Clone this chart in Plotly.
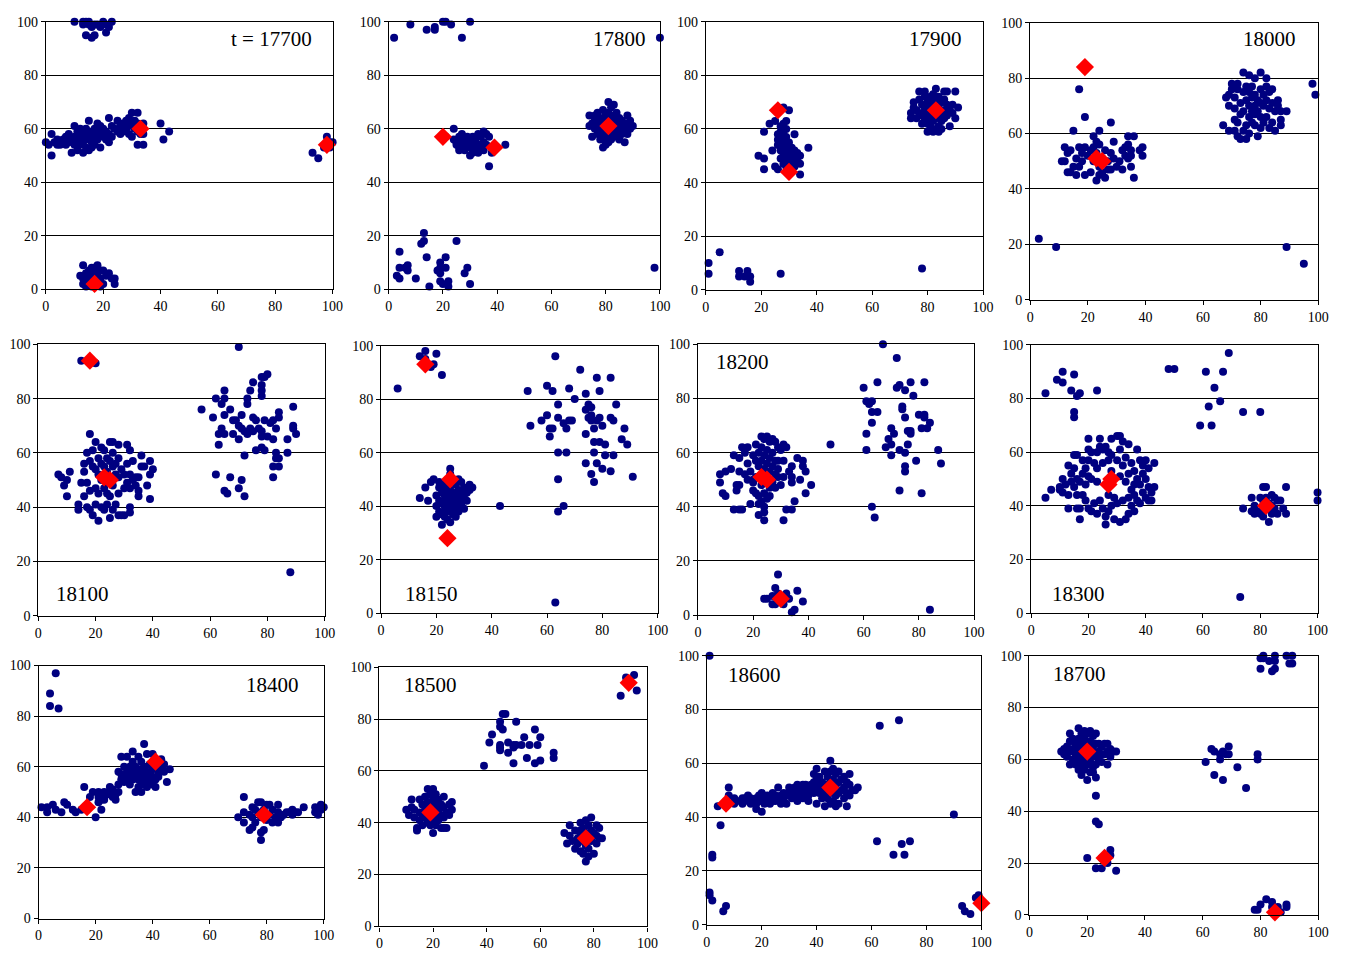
import plotly.graph_objects as go

W, H = 1351, 961

LABELS = ["t = 17700", "17800", "17900", "18000", "18100", "18150",
          "18200", "18300", "18400", "18500", "18600", "18700"]

# ---------------- data (x, y) per panel ----------------
P17700_BLUE = [(10,100),(13,99),(14,100),(15,100),(15,99),(16,98),(17,99),(18,99),(20,100),(21,99),(22,98),(23,100),(14,95),(16,94),(17,95),(21,96),(13,100),(19,98),
 (0,55),(1,54),(2,58),(2,50),(3,55),(4,56),(4,54),(5,54),(6,55),(6,56),(7,57),(7,54),(8,58),(8,55),(9,56),(9,51),(10,57),(10,61),(10,54),(11,59),(11,55),(11,52),(12,60),(12,57),(12,54),(12,56),(13,58),(13,55),(13,51),(14,60),(14,57),(14,53),(15,63),(15,59),(15,56),(15,52),(16,58),(16,55),(16,53),(17,60),(17,57),(17,54),(18,62),(18,59),(18,56),(19,61),(19,58),(19,53),(20,60),(20,57),(21,59),(21,56),(22,64),(22,58),(22,55),(23,61),(23,57),(24,60),(25,63),(25,59),(26,61),(26,58),(27,62),(27,59),(28,63),(28,60),(29,64),(29,61),(29,58),(30,66),(30,62),(30,57),(31,63),(31,60),(32,66),(32,62),(32,59),(32,54),(33,61),(33,58),(34,62),(34,58),(34,54),(40,62),(41,56),(43,59),
 (93,51),(95,49),(97,53),(98,57),(99,55),(100,55),(99,53),(98,53),
 (12,5),(13,9),(13,4),(13,2),(14,6),(14,1),(15,3),(15,7),(16,5),(16,1),(17,8),(17,6),(17,3),(18,9),(18,5),(18,2),(19,7),(19,4),(20,7),(20,2),(21,5),(22,6),(23,4),(24,4),(24,2),(14,4),(16,8),(19,1)]
P17700_RED = [(33,60),(98,54),(17,2)]

P17800_BLUE = [(2,94),(8,99),(14,97),(17,98),(17,97),(20,100),(21,100),(23,99),(27,94),(30,100),(100,94),
 (21,57),(24,60),(24,56),(25,55),(25,54),(26,57),(26,53),(26,52),(27,58),(27,55),(27,53),(28,56),(28,52),(29,54),(29,57),(30,55),(30,50),(30,53),(31,57),(31,54),(32,52),(32,56),(33,58),(33,54),(33,51),(34,57),(34,53),(35,59),(35,55),(35,52),(36,58),(36,54),(37,57),(37,46),(38,51),(43,54),(28,54),(26,55),(31,51),
 (74,65),(74,61),(75,62),(75,57),(76,63),(76,60),(77,66),(77,61),(77,58),(78,64),(78,62),(78,59),(78,56),(79,67),(79,63),(79,60),(79,57),(79,53),(80,65),(80,62),(80,59),(80,56),(80,54),(81,70),(81,66),(81,63),(81,61),(81,58),(81,55),(82,68),(82,64),(82,61),(82,59),(82,56),(83,69),(83,65),(83,62),(83,60),(83,57),(84,66),(84,63),(84,60),(84,58),(85,64),(85,61),(85,59),(85,56),(86,63),(86,60),(86,58),(87,62),(87,59),(87,55),(88,65),(88,61),(88,58),(89,63),(89,60),(90,61),(76,65),(77,63),(80,60),(82,62),(84,61),
 (3,5),(4,14),(4,8),(4,4),(6,8),(7,9),(7,7),(10,4),(12,17),(13,18),(13,21),(14,12),(15,1),(18,7),(19,10),(19,8),(19,6),(19,3),(20,2),(21,12),(21,8),(22,3),(22,1),(25,18),(28,6),(29,8),(30,2),(98,8)]
P17800_RED = [(20,57),(39,53),(81,61)]

P17900_BLUE = [(19,50),(21,59),(21,49),(21,45),(23,62),(24,52),(25,63),(25,46),(26,45),(26,58),(26,56),(26,54),(27,61),(27,59),(27,57),(27,55),(27,52),(27,49),(28,68),(28,62),(28,58),(28,56),(28,53),(28,50),(28,47),(29,63),(29,60),(29,57),(29,54),(29,51),(29,48),(29,46),(30,67),(30,55),(30,52),(30,49),(30,47),(31,53),(31,50),(31,48),(32,58),(32,52),(32,49),(32,46),(33,51),(33,48),(34,50),(34,47),(34,43),(37,53),
 (74,64),(74,66),(75,68),(75,70),(76,67),(77,74),(77,71),(77,65),(78,69),(78,66),(78,62),(79,74),(79,72),(79,68),(79,64),(80,70),(80,66),(80,62),(80,59),(81,72),(81,68),(81,65),(81,61),(82,73),(82,70),(82,66),(82,63),(82,59),(83,75),(83,71),(83,67),(83,64),(83,60),(84,72),(84,68),(84,65),(84,61),(84,59),(85,70),(85,66),(85,63),(85,60),(86,74),(86,71),(86,67),(86,64),(87,74),(87,69),(87,65),(88,67),(88,61),(89,69),(89,66),(90,74),(90,64),(91,68),(76,64),(81,63),
 (1,10),(1,6),(5,14),(12,7),(12,5),(14,5),(15,7),(16,5),(16,3),(27,6),(78,8)]
P17900_RED = [(26,67),(30,44),(83,67)]

P18000_BLUE = [(17,76),(19,66),(15,61),(24,61),(28,64),(12,55),(13,53),(11,50),(12,50),(13,46),(14,54),(14,46),(15,48),(16,51),(16,45),(17,55),(17,48),(18,50),(19,55),(19,45),(20,52),(21,46),(22,59),(22,55),(22,50),(23,57),(23,53),(23,43),(24,56),(24,48),(24,45),(25,51),(25,46),(26,54),(26,44),(27,50),(27,47),(28,53),(28,47),(29,57),(29,51),(30,48),(31,50),(32,54),(32,47),(33,52),(34,59),(34,56),(34,51),(35,54),(35,48),(36,59),(36,44),(38,54),(39,55),(39,52),(35,52),(21,54),(18,53),(26,50),(33,55),
 (67,63),(68,73),(69,74),(69,70),(69,61),(70,78),(70,76),(71,73),(71,69),(71,65),(71,61),(72,78),(72,76),(72,64),(72,59),(73,71),(73,67),(73,58),(74,82),(74,75),(74,68),(74,61),(75,77),(75,72),(75,63),(75,58),(76,81),(76,75),(76,70),(76,66),(76,60),(77,77),(77,73),(77,68),(77,64),(78,80),(78,74),(78,70),(78,67),(78,63),(79,59),(79,72),(79,68),(80,82),(80,76),(80,71),(80,66),(80,62),(81,74),(81,70),(81,64),(82,80),(82,77),(82,72),(82,66),(83,75),(83,69),(83,62),(84,76),(84,71),(84,64),(85,68),(85,61),(86,72),(86,70),(87,68),(87,65),(87,63),(89,68),(98,78),(99,74),
 (3,22),(9,19),(89,19),(95,13)]
P18000_RED = [(19,84),(23,51),(25,50)]

P18100_BLUE = [(15,94),(20,93),(70,99),
 (7,52),(8,51),(9,48),(10,50),(10,44),(11,53),(14,41),(14,39),(15,49),(16,56),(16,53),(16,44),(17,60),(17,49),(17,40),(18,67),(18,57),(18,46),(18,39),(19,61),(19,55),(19,37),(20,64),(20,54),(20,41),(21,58),(21,52),(21,45),(21,35),(22,62),(22,56),(22,50),(22,40),(23,61),(23,55),(23,47),(23,39),(24,58),(24,53),(24,45),(24,41),(25,64),(25,57),(25,51),(25,44),(25,36),(26,64),(26,60),(26,55),(26,48),(26,39),(27,56),(27,52),(27,41),(28,63),(28,58),(28,51),(28,37),(29,54),(29,37),(30,52),(30,47),(30,37),(31,63),(31,56),(31,49),(32,61),(32,52),(32,47),(32,40),(32,38),(33,57),(33,50),(34,51),(34,48),(35,51),(35,46),(35,44),(36,59),(36,55),(37,55),(38,48),(39,57),(39,52),(39,43),(40,54),(20,47),(24,49),(28,45),
 (57,76),(61,73),(62,80),(62,52),(63,67),(63,63),(64,78),(64,69),(65,83),(65,80),(65,74),(65,67),(65,46),(66,45),(67,76),(67,51),(68,72),(68,67),(69,72),(70,70),(70,65),(70,47),(71,74),(71,69),(71,50),(72,68),(72,59),(72,44),(73,80),(73,78),(73,67),(74,83),(74,69),(75,86),(75,73),(75,68),(76,72),(76,61),(77,69),(78,88),(78,85),(78,83),(78,81),(78,68),(78,66),(78,62),(79,88),(79,72),(79,61),(80,89),(80,66),(81,71),(82,72),(82,65),(82,55),(82,51),(83,69),(83,60),(83,58),(84,75),(84,73),(84,55),(84,58),(87,65),(87,60),(89,77),(89,70),(89,69),(90,67),(88,16)]
P18100_RED = [(18,94),(23,51),(25,50)]

P18150_BLUE = [(6,84),(14,96),(16,98),(16,95),(18,92),(19,93),(20,97),(22,89),
 (14,43),(16,47),(17,42),(18,49),(19,50),(20,36),(20,40),(20,44),(21,47),(21,49),(21,42),(21,38),(22,33),(22,45),(22,41),(22,37),(23,48),(23,44),(23,40),(23,36),(24,47),(24,43),(24,39),(24,35),(25,54),(25,52),(25,46),(25,42),(25,38),(25,34),(26,49),(26,45),(26,41),(26,37),(27,48),(27,44),(27,40),(27,36),(28,50),(28,46),(28,42),(28,38),(29,49),(29,45),(29,41),(30,47),(30,43),(30,39),(31,45),(31,42),(32,48),(32,46),(33,47),(22,47),(23,42),(24,45),(26,43),(27,42),(29,43),(24,41),(26,39),(28,40),(25,44),(23,38),
 (43,40),(53,83),(54,70),(58,72),(60,85),(60,74),(61,66),(61,69),(62,69),(62,83),(63,96),(64,78),(64,73),(64,60),(64,50),(64,38),(66,71),(66,40),(67,69),(67,60),(68,84),(68,72),(69,72),(70,80),(72,91),(74,82),(74,76),(74,67),(74,56),(75,78),(75,73),(76,77),(76,74),(76,72),(76,52),(77,69),(77,64),(77,60),(77,49),(78,88),(78,72),(78,56),(79,83),(79,73),(79,64),(80,70),(80,54),(81,63),(81,59),(83,88),(83,73),(83,53),(84,72),(84,59),(85,78),(87,65),(88,69),(89,63),(91,51),(63,4)]
P18150_RED = [(16,93),(25,50),(24,28)]

P18200_BLUE = [(8,52),(8,49),(9,45),(10,44),(10,53),(12,54),(13,59),(13,39),(14,48),(14,46),(15,58),(15,53),(15,48),(15,39),(16,62),(16,39),(17,52),(17,60),(18,62),(18,56),(18,50),(19,53),(19,41),(20,59),(20,49),(20,46),(21,63),(21,57),(21,51),(21,45),(22,60),(22,55),(22,44),(22,41),(22,37),(23,66),(23,62),(23,57),(23,48),(23,42),(24,65),(24,59),(24,54),(24,45),(24,40),(24,38),(24,35),(25,66),(25,61),(25,56),(25,50),(25,43),(26,64),(26,58),(26,53),(26,44),(27,65),(27,60),(27,55),(27,49),(28,64),(28,57),(28,52),(28,47),(29,62),(29,57),(29,51),(30,61),(30,48),(31,63),(31,57),(31,51),(31,35),(32,62),(32,39),(34,55),(34,51),(34,49),(34,39),(35,42),(36,58),(37,50),(38,57),(38,55),(39,53),(39,45),(41,48),(48,63),(20,50),(26,47),(29,54),(33,53),
 (60,84),(61,79),(61,67),(61,61),(62,78),(63,79),(63,75),(63,71),(63,40),(64,36),(65,86),(65,75),(67,100),(68,62),(69,65),(70,69),(70,63),(70,59),(71,67),(72,95),(72,84),(73,85),(73,61),(73,46),(74,77),(74,76),(75,83),(75,73),(75,60),(75,55),(75,53),(76,68),(76,63),(77,86),(77,68),(77,67),(78,81),(79,57),(80,74),(81,69),(81,45),(82,86),(82,74),(82,73),(83,69),(84,71),(87,61),(88,56),
 (24,6),(25,6),(27,7),(27,4),(28,10),(28,4),(29,15),(29,8),(30,6),(31,4),(32,8),(33,6),(34,1),(35,2),(36,9),(38,5),(84,2)]
P18200_RED = [(23,51),(25,50),(30,6)]

P18300_BLUE = [(5,82),(9,87),(11,90),(11,86),(14,83),(15,89),(15,75),(15,73),(16,81),(17,82),(23,83),(48,91),(50,91),(59,70),(61,90),(62,77),(63,70),(64,84),(66,79),(67,90),(69,97),(74,75),(80,75),
 (5,43),(7,46),(10,47),(10,46),(11,50),(11,45),(12,48),(13,55),(13,44),(13,39),(14,52),(14,49),(15,59),(15,54),(15,47),(16,59),(16,50),(16,44),(16,39),(17,35),(17,49),(17,39),(18,57),(18,52),(18,44),(19,48),(19,42),(20,65),(20,61),(20,57),(20,51),(20,39),(21,60),(21,50),(21,38),(22,41),(23,60),(23,54),(23,49),(23,37),(24,65),(24,62),(24,42),(25,61),(25,56),(25,39),(26,62),(26,36),(26,33),(27,60),(27,57),(27,44),(27,38),(28,65),(28,59),(28,53),(28,40),(29,43),(29,35),(30,66),(30,57),(30,41),(31,66),(31,61),(31,51),(31,34),(32,64),(32,55),(32,42),(33,58),(33,49),(33,35),(34,63),(34,52),(34,43),(34,37),(35,56),(35,46),(35,40),(36,53),(36,48),(36,38),(37,61),(37,50),(37,42),(38,57),(38,48),(38,41),(39,55),(39,52),(39,45),(40,57),(40,50),(40,43),(41,54),(41,47),(41,42),(42,45),(42,42),(43,56),(43,47),(22,56),(36,44),(19,54),
 (74,39),(77,43),(77,38),(78,40),(78,37),(79,38),(80,43),(80,37),(81,47),(81,42),(81,36),(82,47),(82,43),(82,39),(83,34),(83,41),(84,44),(84,40),(84,37),(85,43),(85,39),(86,42),(86,37),(87,42),(88,39),(89,47),(89,37),(100,45),(100,42),(73,6)]
P18300_RED = [(27,48),(28,50),(82,40)]

P18400_BLUE = [(4,89),(4,84),(6,97),(7,83),
 (1,44),(3,44),(3,42),(5,45),(6,43),(8,42),(9,46),(10,45),(12,43),(13,42),(15,43),(16,52),(17,44),(18,48),(19,50),(20,40),(21,50),(21,48),(21,46),(22,49),(22,47),(22,43),(23,50),(23,47),(24,49),(25,52),(25,50),(26,51),(26,48),(27,49),(27,47),(28,50),(28,53),(28,58),(29,55),(29,64),(29,57),(30,56),(30,60),(30,54),(31,58),(31,55),(31,64),(32,60),(32,57),(32,53),(33,66),(33,62),(33,58),(33,55),(34,60),(34,56),(34,50),(35,64),(35,58),(35,55),(35,52),(36,62),(36,57),(36,54),(36,50),(37,69),(37,60),(37,56),(37,53),(38,65),(38,58),(38,55),(38,52),(39,61),(39,57),(39,54),(40,65),(40,59),(40,56),(40,53),(41,60),(41,55),(41,52),(42,58),(42,56),(43,63),(43,59),(44,61),(44,58),(45,54),(46,59),(34,58),(36,59),
 (70,40),(72,48),(72,42),(72,38),(74,41),(74,35),(75,44),(75,40),(75,36),(76,43),(76,38),(77,46),(77,42),(78,46),(78,40),(78,34),(78,31),(79,43),(79,35),(80,45),(80,39),(81,45),(81,41),(82,43),(82,38),(83,40),(84,45),(84,42),(84,38),(85,40),(86,41),(87,42),(88,42),(89,43),(89,41),(90,42),(91,42),(93,44),(97,44),(97,42),(98,43),(98,41),(99,45),(99,43),(100,44)]
P18400_RED = [(17,44),(41,62),(79,41)]

P18500_BLUE = [(90,89),(92,96),(95,97),(96,91),
 (39,62),(41,71),(42,74),(45,79),(45,77),(45,70),(45,69),(45,68),(46,82),(46,76),(47,82),(48,71),(48,67),(50,70),(50,69),(50,63),(51,79),(51,70),(53,70),(54,73),(55,65),(56,70),(58,76),(58,63),(59,70),(60,73),(60,64),(65,67),(65,65),
 (10,45),(11,43),(12,49),(12,46),(13,45),(13,42),(14,38),(14,37),(15,49),(15,44),(15,41),(16,47),(16,43),(16,39),(17,50),(17,46),(17,42),(18,53),(18,48),(18,44),(18,40),(19,51),(19,47),(19,43),(19,39),(20,53),(20,49),(20,45),(20,41),(20,36),(21,51),(21,47),(21,43),(21,39),(22,49),(22,45),(22,41),(23,47),(23,43),(23,38),(24,50),(24,46),(24,42),(24,38),(25,44),(25,38),(26,47),(26,43),(27,48),(27,45),(19,45),(17,44),(22,47),
 (69,36),(70,32),(71,39),(71,35),(72,33),(73,37),(73,30),(74,34),(74,32),(75,40),(75,37),(75,35),(75,29),(76,38),(76,33),(76,28),(77,41),(77,36),(77,31),(77,25),(78,39),(78,35),(78,30),(79,42),(79,37),(79,33),(80,36),(80,28),(81,39),(81,35),(81,32),(82,38),(82,34),(83,34),(78,27),(76,35)]
P18500_RED = [(19,44),(77,34),(93,94)]

P18600_BLUE = [(1,100),(1,12),(1,11),(2,26),(2,25),(2,9),(4,44),(5,37),(6,5),(7,7),(8,51),(8,48),(10,47),(10,45),(12,46),(13,47),(13,45),(14,47),(15,48),(15,46),(16,47),(16,45),(18,47),(18,45),(18,43),(19,48),(19,46),(20,49),(20,46),(20,42),(21,47),(21,45),(22,48),(22,46),(23,47),(23,45),(24,49),(24,46),(25,48),(25,46),(26,51),(26,47),(27,48),(27,45),(28,49),(28,47),(29,48),(29,45),(30,51),(30,49),(31,50),(31,47),(32,51),(32,48),(33,52),(33,49),(33,46),(34,51),(34,48),(35,52),(35,50),(35,47),(36,52),(36,49),(37,51),(37,48),(37,46),(38,52),(38,50),(39,53),(39,56),(39,49),(40,58),(40,54),(40,51),(40,45),(41,55),(41,52),(41,49),(42,53),(42,50),(42,47),(43,57),(43,52),(43,49),(43,44),(44,55),(44,51),(44,47),(45,61),(45,57),(45,53),(45,49),(45,45),(46,58),(46,54),(46,50),(46,46),(47,56),(47,52),(47,48),(47,44),(48,57),(48,53),(48,49),(48,45),(49,54),(49,50),(50,55),(50,51),(50,47),(51,53),(51,49),(51,44),(52,56),(52,52),(52,48),(53,50),(54,50),(55,51),
 (62,31),(63,74),(68,26),(70,76),(71,30),(72,26),(74,31),(90,41),(93,7),(94,5),(96,4),(98,10),(99,11),(99,10)]
P18600_RED = [(7,45),(45,51),(100,8)]

P18700_BLUE = [(80,95),(80,99),(81,100),(83,98),(85,100),(85,98),(84,94),(85,95),(89,100),(90,97),(91,100),(91,97),(81,99),
 (11,63),(12,64),(12,62),(13,65),(13,61),(14,70),(14,67),(14,63),(14,58),(15,68),(15,64),(15,60),(16,66),(16,62),(16,58),(17,72),(17,68),(17,64),(17,60),(17,56),(18,70),(18,66),(18,62),(18,58),(18,54),(19,71),(19,68),(19,64),(19,60),(19,56),(20,70),(20,66),(20,62),(20,58),(20,52),(21,71),(21,67),(21,63),(21,59),(21,55),(22,69),(22,65),(22,61),(22,57),(22,55),(23,70),(23,66),(23,62),(23,58),(23,53),(24,66),(24,63),(24,60),(25,65),(25,62),(25,59),(26,66),(26,62),(27,66),(27,63),(27,58),(28,64),(28,61),(29,63),(30,63),(20,64),(18,64),(22,63),
 (23,46),(23,36),(24,35),(20,22),(23,18),(25,18),(25,22),(27,20),(28,25),(28,23),(30,17),
 (61,59),(63,64),(64,63),(64,54),(66,62),(66,60),(67,63),(67,52),(68,62),(69,65),(69,62),(72,57),(75,49),(79,62),(79,60),
 (78,2),(79,2),(80,4),(82,6),(84,5),(84,3),(86,3),(86,1),(87,1),(89,4),(89,3)]
P18700_RED = [(20,63),(26,22),(85,1)]

BLUE = [P17700_BLUE, P17800_BLUE, P17900_BLUE, P18000_BLUE, P18100_BLUE, P18150_BLUE,
        P18200_BLUE, P18300_BLUE, P18400_BLUE, P18500_BLUE, P18600_BLUE, P18700_BLUE]
RED = [P17700_RED, P17800_RED, P17900_RED, P18000_RED, P18100_RED, P18150_RED,
       P18200_RED, P18300_RED, P18400_RED, P18500_RED, P18600_RED, P18700_RED]

TICKS = [0, 20, 40, 60, 80, 100]

# ---------------- layout (pixel boxes: x0, x1, y0(top), y1(bottom)) ----------------
BOXES = [
    (42.3, 332.3, 15, 286.7), (389, 663.3, 15, 286.7), (709.7, 990, 15, 287.3), (1037.7, 1329, 16, 297.3),
    (34.7, 324.3, 342.7, 618.3), (381.3, 661, 344, 615.7), (701.7, 981, 342.7, 617.7), (1038.7, 1328.3, 343.3, 615.7),
    (35, 323.3, 669, 926), (379.7, 650.7, 670.7, 934), (710.7, 988.3, 659, 932.3), (1037, 1329, 659, 922.3),
]
# label anchor (fraction of axis domain) and alignment
LABEL_POS = [
    (0.935, 0.934, "right"), (0.956, 0.934, "right"), (0.93, 0.934, "right"), (0.928, 0.94, "right"),
    (0.056, 0.081, "left"), (0.078, 0.072, "left"), (0.057, 0.933, "left"), (0.066, 0.072, "left"),
    (0.92, 0.922, "right"), (0.085, 0.93, "left"), (0.069, 0.93, "left"), (0.075, 0.928, "left"),
]

FONT = "Liberation Serif"
fig = go.Figure()
layout = dict(
    width=W, height=H, margin=dict(l=0, r=0, t=0, b=0),
    paper_bgcolor="white", plot_bgcolor="white", showlegend=False,
    font=dict(family=FONT, size=14, color="black"),
)
annotations = []
for i in range(12):
    n = "" if i == 0 else str(i + 1)
    x0, x1, y0, y1 = BOXES[i]
    xa = dict(domain=[x0 / W, x1 / W], range=[0, 100], tickvals=TICKS, showgrid=False,
              zeroline=False, showline=True, linecolor="black", linewidth=1.2, mirror=True,
              ticks="outside", ticklen=4, tickcolor="black", anchor="y" + n,
              tickfont=dict(family=FONT, size=14, color="black"), fixedrange=True)
    ya = dict(domain=[1 - y1 / H, 1 - y0 / H], range=[0, 100], tickvals=TICKS, showgrid=True,
              gridcolor="black", gridwidth=1, zeroline=False, showline=True, linecolor="black",
              linewidth=1.2, mirror=True, ticks="outside", ticklen=4, tickcolor="black",
              anchor="x" + n, tickfont=dict(family=FONT, size=14, color="black"), fixedrange=True)
    layout["xaxis" + n] = xa
    layout["yaxis" + n] = ya
    bx = [p[0] for p in BLUE[i]]
    by = [p[1] for p in BLUE[i]]
    fig.add_trace(go.Scatter(x=bx, y=by, mode="markers", xaxis="x" + n, yaxis="y" + n,
                             marker=dict(color="#000080", size=8, line=dict(width=0)),
                             cliponaxis=False, hoverinfo="x+y"))
    rx = [p[0] for p in RED[i]]
    ry = [p[1] for p in RED[i]]
    fig.add_trace(go.Scatter(x=rx, y=ry, mode="markers", xaxis="x" + n, yaxis="y" + n,
                             marker=dict(color="#FF0000", symbol="diamond", size=14, line=dict(width=0)),
                             cliponaxis=False, hoverinfo="x+y"))
    lx, ly, al = LABEL_POS[i]
    annotations.append(dict(text=LABELS[i], xref="x%s domain" % n, yref="y%s domain" % n,
                            x=lx, y=ly, xanchor=al, yanchor="middle", showarrow=False,
                            font=dict(family=FONT, size=21, color="black")))
layout["annotations"] = annotations
fig.update_layout(**layout)
fig.write_html("out.html")
